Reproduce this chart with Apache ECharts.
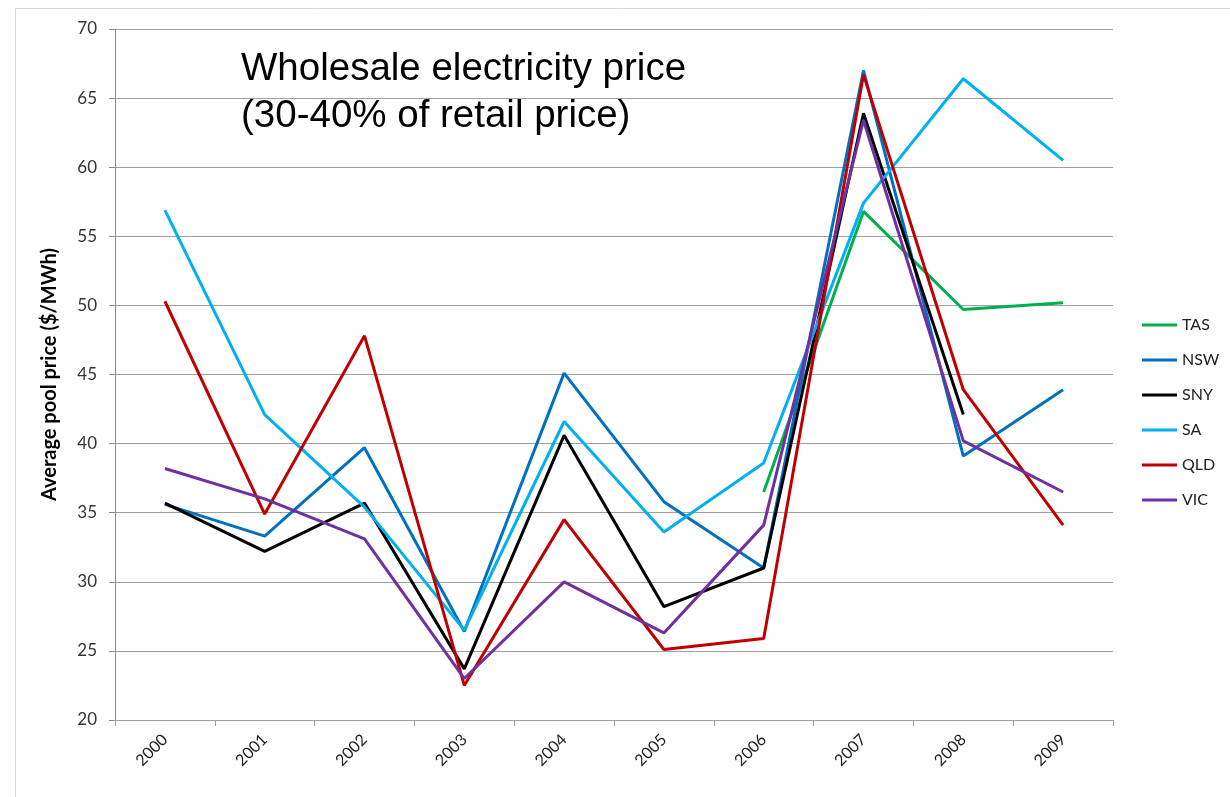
<!DOCTYPE html>
<html>
<head>
<meta charset="utf-8">
<script src="https://cdn.jsdelivr.net/npm/echarts@6/dist/echarts.min.js"></script>
<style>html,body{margin:0;padding:0;background:#fff;}#c{width:1230px;height:797px;}</style>
</head>
<body>
<div id="c"></div>
<script>
const years = ['2000','2001','2002','2003','2004','2005','2006','2007','2008','2009'];
const TAS = [null, null, null, null, null, null, 36.5, 56.8, 49.7, 50.2];
const NSW = [35.6, 33.3, 39.7, 26.4, 45.1, 35.8, 31.0, 67.0, 39.1, 43.9];
const SNY = [35.7, 32.2, 35.7, 23.7, 40.6, 28.2, 31.0, 63.9, 42.1, null];
const SA  = [56.9, 42.1, 35.4, 26.5, 41.6, 33.6, 38.6, 57.4, 66.4, 60.5];
const QLD = [50.3, 34.9, 47.8, 22.5, 34.5, 25.1, 25.9, 66.7, 43.9, 34.1];
const VIC = [38.2, 36.0, 33.1, 23.0, 30.0, 26.3, 34.1, 63.4, 40.2, 36.5];
const yTicks = {min: 20, max: 70, interval: 5};

const seriesDefs = [
  ['TAS', TAS, '#00B050'],
  ['NSW', NSW, '#0070C0'],
  ['SNY', SNY, '#000000'],
  ['SA',  SA,  '#00B0F0'],
  ['QLD', QLD, '#C00000'],
  ['VIC', VIC, '#7030A0']
];

const chart = echarts.init(document.getElementById('c'), null, {renderer: 'canvas'});
chart.setOption({
  animation: false,
  backgroundColor: '#fff',
  grid: {left: 115, right: 117, top: 29, bottom: 77},
  graphic: [
    {type: 'line', shape: {x1: 15.5, y1: 8.5, x2: 1230, y2: 8.5}, style: {stroke: '#d9d9d9', lineWidth: 1}},
    {type: 'line', shape: {x1: 15.5, y1: 8.5, x2: 15.5, y2: 797}, style: {stroke: '#d9d9d9', lineWidth: 1}},
    {type: 'text', left: 241, top: 46, style: {text: 'Wholesale electricity price\n(30-40% of retail price)', fontFamily: 'Liberation Sans', fontSize: 38.5, lineHeight: 47, fill: '#000'}}
  ],
  legend: {
    orient: 'vertical',
    left: 1137, top: 312,
    itemWidth: 35, itemHeight: 3, itemGap: 19,
    icon: 'rect',
    textStyle: {fontFamily: 'Lato', fontSize: 16, color: '#222'},
    data: seriesDefs.map(d => d[0])
  },
  xAxis: {
    type: 'category',
    data: years,
    boundaryGap: true,
    axisLine: {lineStyle: {color: '#a0a0a0', width: 1}},
    axisTick: {show: true, length: 6, lineStyle: {color: '#a0a0a0'}},
    axisLabel: {rotate: 45, margin: 17, fontFamily: 'Lato', fontSize: 16, color: '#222'}
  },
  yAxis: {
    type: 'value',
    min: yTicks.min, max: yTicks.max, interval: yTicks.interval,
    name: 'Average pool price ($/MWh)',
    nameLocation: 'middle',
    nameGap: 55,
    nameTextStyle: {fontFamily: 'Lato', fontWeight: 'bold', fontSize: 20, color: '#000'},
    axisLine: {show: true, lineStyle: {color: '#8c8c8c', width: 1}},
    axisTick: {show: true, length: 6, lineStyle: {color: '#8c8c8c'}},
    axisLabel: {margin: 18, fontFamily: 'Lato', fontSize: 17, color: '#333'},
    splitLine: {lineStyle: {color: '#a0a0a0', width: 1}}
  },
  series: seriesDefs.map(d => ({
    name: d[0], type: 'line', data: d[1],
    symbol: 'none', connectNulls: false,
    lineStyle: {color: d[2], width: 3},
    itemStyle: {color: d[2]}
  }))
});
</script>
</body>
</html>
